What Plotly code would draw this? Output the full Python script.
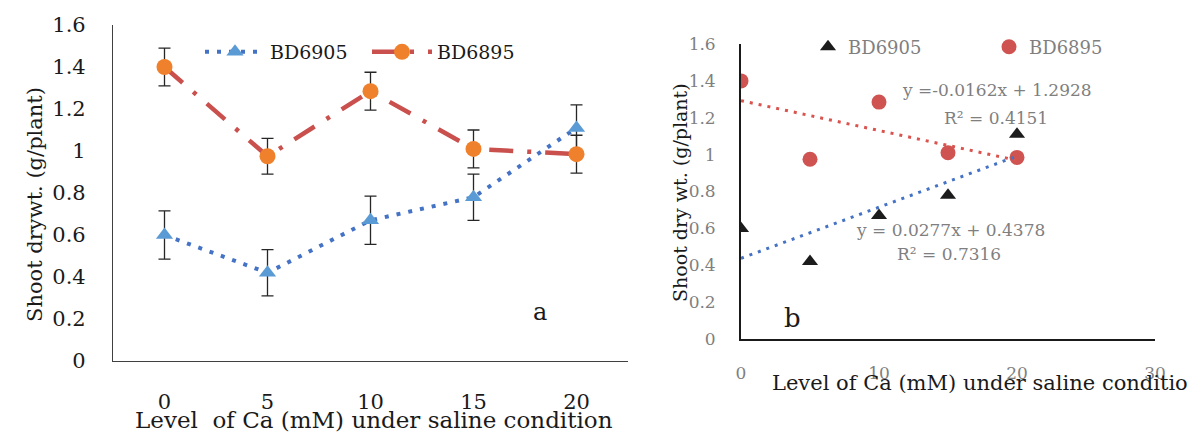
import plotly.graph_objects as go

# ---- data ----
ca_levels = [0, 5, 10, 15, 20]
ca_labels = ["0", "5", "10", "15", "20"]
bd6905 = [0.60, 0.42, 0.67, 0.78, 1.11]
bd6905_err = [0.115, 0.11, 0.115, 0.11, 0.11]
bd6895 = [1.40, 0.975, 1.285, 1.01, 0.985]
bd6895_err = [0.09, 0.085, 0.09, 0.09, 0.09]

trend_x = [0, 20]
bd6905_slope, bd6905_icpt, bd6905_r2 = 0.0277, 0.4378, 0.7316
bd6895_slope, bd6895_icpt, bd6895_r2 = -0.0162, 1.2928, 0.4151

W, H = 1188, 432
FONT = "DejaVu Serif"
GRAY = "#7f7f7f"
INK = "#1a1a1a"

def px_x(p):
    return p / W

def px_y(p):
    return 1 - p / H

fig = go.Figure()

# ---- left panel (a) ----
fig.add_trace(go.Scatter(
    x=ca_labels, y=bd6905, name="BD6905", mode="lines+markers",
    line=dict(color="#4472c4", width=4, dash="4px,8px"),
    marker=dict(symbol="triangle-up", size=15, color="#5b9bd5"),
    error_y=dict(type="data", array=bd6905_err, color="#262626", thickness=1.3, width=6),
    xaxis="x", yaxis="y", legend="legend"))
fig.add_trace(go.Scatter(
    x=ca_labels, y=bd6895, name="BD6895", mode="lines+markers",
    line=dict(color="#c9504d", width=4.5, dash="24px,14px,4px,14px"),
    marker=dict(symbol="circle", size=16, color="#f0812c"),
    error_y=dict(type="data", array=bd6895_err, color="#262626", thickness=1.3, width=6),
    xaxis="x", yaxis="y", legend="legend"))

# ---- right panel (b) ----
fig.add_trace(go.Scatter(
    x=ca_levels, y=bd6905, name="BD6905", mode="markers",
    marker=dict(symbol="triangle-up", size=14, color="#1c1c1c"),
    xaxis="x2", yaxis="y2", legend="legend2"))
fig.add_trace(go.Scatter(
    x=ca_levels, y=bd6895, name="BD6895", mode="markers",
    marker=dict(symbol="circle", size=15, color="#cf5350"),
    xaxis="x2", yaxis="y2", legend="legend2"))
fig.add_trace(go.Scatter(
    x=trend_x, y=[bd6895_icpt + bd6895_slope * v for v in trend_x],
    mode="lines", line=dict(color="#d9534f", width=3, dash="3px,6px"),
    showlegend=False, hoverinfo="skip", xaxis="x2", yaxis="y2"))
fig.add_trace(go.Scatter(
    x=trend_x, y=[bd6905_icpt + bd6905_slope * v for v in trend_x],
    mode="lines", line=dict(color="#4472c4", width=3, dash="3px,6px"),
    showlegend=False, hoverinfo="skip", xaxis="x2", yaxis="y2"))

axis_common = dict(showgrid=False, zeroline=False, ticks="", mirror=False, automargin=False)

fig.update_layout(
    width=W, height=H,
    margin=dict(l=0, r=0, t=0, b=0, autoexpand=False),
    paper_bgcolor="white", plot_bgcolor="white",
    font=dict(family=FONT, color=INK),
    xaxis=dict(domain=[px_x(113), px_x(628)], type="category", range=[-0.5, 4.5],
               showline=True, linecolor="#404040", linewidth=1.2,
               tickfont=dict(size=21, color=INK), ticklabelstandoff=22,
               anchor="y", **axis_common),
    yaxis=dict(domain=[px_y(361), px_y(25)], range=[0, 1.6], dtick=0.2,
               showline=True, linecolor="#404040", linewidth=1.2,
               tickfont=dict(size=21, color=INK), ticklabelstandoff=22,
               anchor="x", **axis_common),
    xaxis2=dict(domain=[px_x(741), px_x(1155)], range=[0, 30], dtick=10,
                showline=True, linecolor=INK, linewidth=1.8,
                tickfont=dict(size=17, color=GRAY), ticklabelstandoff=18,
                anchor="y2", **axis_common),
    yaxis2=dict(domain=[px_y(339), px_y(44)], range=[0, 1.6], dtick=0.2,
                showline=True, linecolor=INK, linewidth=1.8,
                tickfont=dict(size=17, color=GRAY), ticklabelstandoff=20,
                anchor="x2", **axis_common),
    legend=dict(orientation="h", x=px_x(200), y=px_y(52), xanchor="left", yanchor="middle",
                font=dict(size=19, color=INK), bgcolor="rgba(0,0,0,0)",
                itemwidth=60, entrywidth=92, entrywidthmode="pixels"),
    legend2=dict(orientation="h", x=px_x(808), y=px_y(47), xanchor="left", yanchor="middle",
                 font=dict(size=18, color=GRAY), bgcolor="rgba(0,0,0,0)",
                 entrywidth=136, entrywidthmode="pixels"),
    showlegend=True,
)

annotations = [
    dict(text="Shoot drywt. (g/plant)", x=px_x(35), y=px_y(205), textangle=-90,
         font=dict(size=21, color=INK)),
    dict(text="Level\u00a0 of Ca (mM) under saline condition", x=px_x(133), y=px_y(420),
         xanchor="left", font=dict(size=23, color=INK)),
    dict(text="a", x=px_x(540), y=px_y(312), font=dict(size=24, color=INK)),
    dict(text="Shoot dry wt. (g/plant)", x=px_x(680), y=px_y(192), textangle=-90,
         font=dict(size=19, color=INK)),
    dict(text="Level of Ca (mM) under saline condition", x=px_x(770), y=px_y(383),
         xanchor="left", font=dict(size=21, color=INK)),
    dict(text="b", x=px_x(792), y=px_y(318), font=dict(size=26, color=INK)),
    dict(text=f"y = {bd6895_slope}x + {bd6895_icpt}".replace("= -", "=-"), x=px_x(997), y=px_y(90),
         font=dict(size=17, color=GRAY)),
    dict(text=f"R² = {bd6895_r2}", x=px_x(996), y=px_y(118), font=dict(size=17, color=GRAY)),
    dict(text=f"y = {bd6905_slope}x + {bd6905_icpt}", x=px_x(950), y=px_y(230),
         font=dict(size=17, color=GRAY)),
    dict(text=f"R² = {bd6905_r2}", x=px_x(949), y=px_y(254), font=dict(size=17, color=GRAY)),
]
for a in annotations:
    a.setdefault("xanchor", "center")
    a.update(xref="paper", yref="paper", yanchor="middle", showarrow=False)
fig.update_layout(annotations=annotations)

fig.write_html("out.html")
